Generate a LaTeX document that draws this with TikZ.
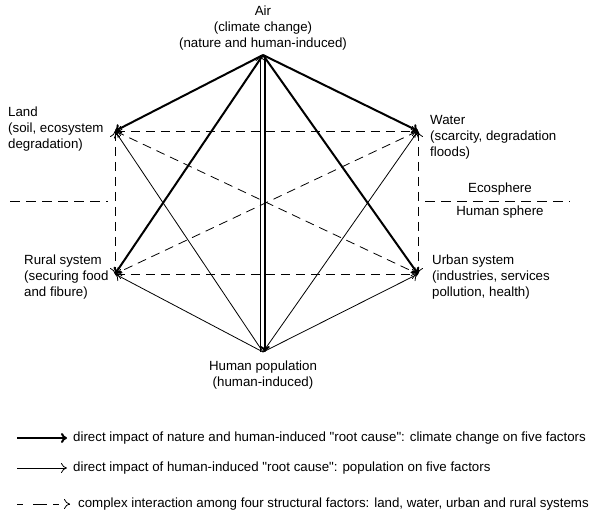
\documentclass[tikz,border=0pt]{standalone}
\usepackage{fontspec}
\setmainfont{Liberation Sans}
\usepackage{tikz}
\usetikzlibrary{arrows.meta}

\tikzset{
  climate/.style={black, line width=2pt, -{To[length=6pt,width=10pt]}},
  people/.style={black, line width=0.8pt, -{To[length=6pt,width=10pt]}},
  interact/.style={black, line width=0.8pt, dash pattern=on 9pt off 6pt, {To[length=6pt,width=10pt]}-{To[length=6pt,width=10pt]}},
  sphere/.style={black, line width=0.8pt, dash pattern=on 10pt off 6pt},
  txt/.style={inner sep=0pt, font=\fontsize{13.3}{16}\selectfont},
}

\begin{document}
\begin{tikzpicture}[x=1pt, y=-1pt]
\useasboundingbox (0,0) rectangle (589,514);

% corner points of the hexagon
\path
(263,55)  coordinate (air)
(115,131) coordinate (land)
(418,131) coordinate (water)
(115,274) coordinate (rural)
(418,274) coordinate (urban)
(263,352) coordinate (human);

% labels
\path
(263,28)  node[txt, align=center](airtxt) {Air\\(climate change)\\(nature and human-induced)}
(8,129)   node[txt, anchor=west, align=left](landtxt) {Land\\(soil, ecosystem\\degradation)}
(430,137) node[txt, anchor=west, align=left](watertxt) {Water\\(scarcity, degradation\\floods)}
(24,277)  node[txt, anchor=west, align=left](ruraltxt) {Rural system\\(securing food\\and fibure)}
(432,277) node[txt, anchor=west, align=left](urbantxt) {Urban system\\(industries, services\\pollution, health)}
(263,375) node[txt, align=center](humantxt) {Human population\\(human-induced)};

%% ecosphere / human sphere border
\path (10,201) coordinate (ecoL1) (108,201) coordinate (ecoL2)
      (425,201) coordinate (ecoR1) (570,201) coordinate (ecoR2);
\draw[sphere] (ecoL1) -- (ecoL2);
\draw[sphere] (ecoR1) -- (ecoR2);
\path (500,189) node[txt](eco) {Ecosphere}
      (500,212) node[txt](hum) {Human sphere};

%% interaction among the four structural factors
\draw[interact] (land) -- (water);
\draw[interact] (land) -- (rural);
\draw[interact] (water) -- (urban);
\draw[interact] (rural) -- (urban);
\draw[interact] (land) -- (urban);
\draw[interact] (water) -- (rural);

%% population on five factors
\draw[people] (human) -- (land);
\draw[people] (human) -- (water);
\draw[people] (human) -- (rural);
\draw[people] (human) -- (urban);
\draw[people] ([xshift=-2.4pt]human) -- ([xshift=-2.4pt]air);

%% climate change on five factors
\draw[climate] (air) -- (land);
\draw[climate] (air) -- (water);
\draw[climate] (air) -- (rural);
\draw[climate] (air) -- (urban);
\draw[climate] ([xshift=1.8pt]air) -- ([xshift=1.8pt]human);

%% legend
\path
(17,438) coordinate (leg1a) (67,438) coordinate (leg1b)
(17,468) coordinate (leg2a) (67,468) coordinate (leg2b)
(17,504) coordinate (leg3a) (70,504) coordinate (leg3b);
\draw[climate] (leg1a) -- (leg1b);
\draw[people] (leg2a) -- (leg2b);
\draw[black, line width=0.8pt, dash pattern=on 6pt off 10pt on 14pt off 6pt, -{To[length=6pt,width=10pt]}] (leg3a) -- (leg3b);
\path
(73,438) node[txt, anchor=west](leg1) {direct impact of nature and human-induced \textquotedbl root cause\textquotedbl: climate change on five factors}
(73,468) node[txt, anchor=west](leg2) {direct impact of human-induced \textquotedbl root cause\textquotedbl: population on five factors}
(78,504) node[txt, anchor=west](leg3) {complex interaction among four structural factors: land, water, urban and rural systems};

\end{tikzpicture}
\end{document}
